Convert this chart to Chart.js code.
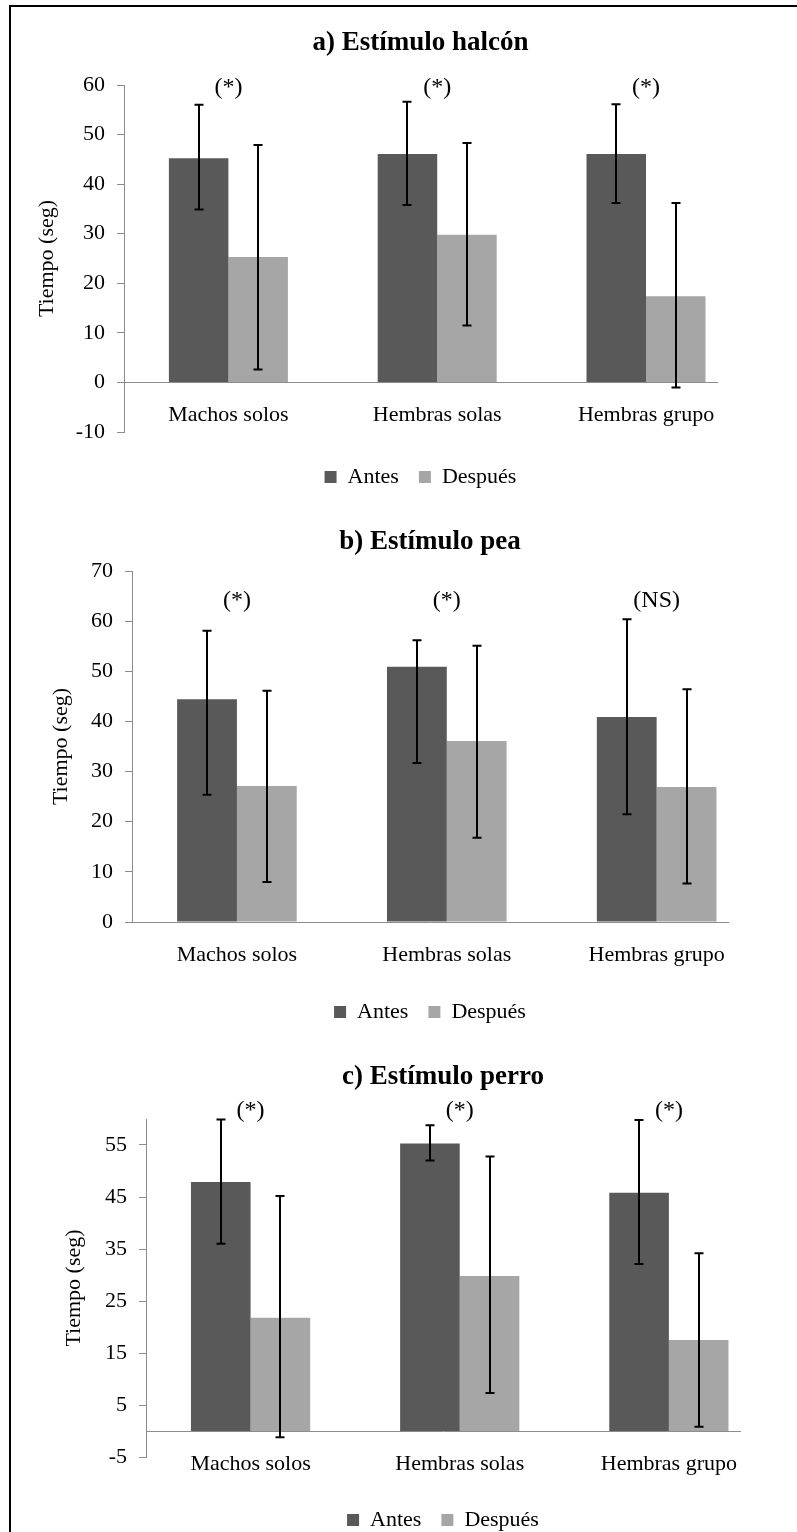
<!DOCTYPE html>
<html><head><meta charset="utf-8">
<script src="https://cdn.jsdelivr.net/npm/chart.js@4.4.1/dist/chart.umd.min.js"></script>
<style>
html,body{margin:0;padding:0;background:#fff;overflow:hidden;}
#page{position:relative;width:797px;height:1532px;overflow:hidden;background:#fff;}
canvas{position:absolute;left:0;}
#frame{position:absolute;left:9px;top:5px;width:800px;height:1560px;border-top:2px solid #000;border-left:2px solid #000;pointer-events:none;}
</style></head>
<body>
<div id="page">
<canvas id="cA" width="797" height="500" style="top:0px"></canvas>
<canvas id="cB" width="797" height="540" style="top:500px"></canvas>
<canvas id="cC" width="797" height="520" style="top:1030px"></canvas>
<div id="frame"></div>
</div>
<script>
const categories = ['Machos solos', 'Hembras solas', 'Hembras grupo'];
const seriesNames = ['Antes', 'Después'];

// a) Estímulo halcón
const halconAntes = [45.2, 46.1, 46.1];
const halconDespues = [25.3, 29.8, 17.4];
const halconAntesHigh = [56.0, 56.6, 56.1];
const halconAntesLow = [34.9, 35.8, 36.2];
const halconDespuesHigh = [47.9, 48.3, 36.2];
const halconDespuesLow = [2.6, 11.5, -1.0];
const halconSig = ['(*)', '(*)', '(*)'];
const halconTicks = [-10, 0, 10, 20, 30, 40, 50, 60];

// b) Estímulo pea
const peaAntes = [44.4, 50.9, 40.9];
const peaDespues = [27.1, 36.1, 26.9];
const peaAntesHigh = [58.1, 56.2, 60.4];
const peaAntesLow = [25.4, 31.7, 21.5];
const peaDespuesHigh = [46.1, 55.1, 46.4];
const peaDespuesLow = [8.0, 16.8, 7.7];
const peaSig = ['(*)', '(*)', '(NS)'];
const peaTicks = [0, 10, 20, 30, 40, 50, 60, 70];

// c) Estímulo perro
const perroAntes = [47.9, 55.3, 45.8];
const perroDespues = [21.8, 29.8, 17.5];
const perroAntesHigh = [59.9, 58.8, 59.8];
const perroAntesLow = [36.0, 52.0, 32.1];
const perroDespuesHigh = [45.2, 52.8, 34.2];
const perroDespuesLow = [-1.2, 7.3, 0.8];
const perroSig = ['(*)', '(*)', '(*)'];
const perroTicks = [-5, 5, 15, 25, 35, 45, 55];

const FONT = "'Liberation Serif','Times New Roman',serif";

const errorBars = {
  id: 'errorBars',
  afterDatasetsDraw(chart) {
    const ctx = chart.ctx, ys = chart.scales.y;
    ctx.save();
    ctx.strokeStyle = '#000';
    ctx.lineWidth = 2;
    chart.data.datasets.forEach((ds, d) => {
      const meta = chart.getDatasetMeta(d);
      meta.data.forEach((bar, j) => {
        const x = Math.round(bar.x);
        const yh = ys.getPixelForValue(ds.errHigh[j]);
        const yl = ys.getPixelForValue(ds.errLow[j]);
        ctx.beginPath();
        ctx.moveTo(x, yh); ctx.lineTo(x, yl);
        ctx.moveTo(x - 4.5, yh); ctx.lineTo(x + 4.5, yh);
        ctx.moveTo(x - 4.5, yl); ctx.lineTo(x + 4.5, yl);
        ctx.stroke();
      });
    });
    ctx.restore();
  }
};

const sigLabels = {
  id: 'sig',
  afterDatasetsDraw(chart, args, opts) {
    const ctx = chart.ctx;
    ctx.save();
    ctx.font = '24px ' + FONT;
    ctx.fillStyle = '#000';
    ctx.textAlign = 'center';
    ctx.textBaseline = 'middle';
    (opts.labels || []).forEach((t, j) => {
      ctx.fillText(t, chart.scales.x.getPixelForValue(j), chart.scales.y.getPixelForValue(opts.y));
    });
    ctx.restore();
  }
};

function build(id, p) {
  return new Chart(document.getElementById(id), {
    type: 'bar',
    data: {
      datasets: [
        { label: seriesNames[0], data: p.antes.map((v, i) => ({ x: i, y: v })), backgroundColor: '#595959',
          errHigh: p.antesHigh, errLow: p.antesLow },
        { label: seriesNames[1], data: p.despues.map((v, i) => ({ x: i, y: v })), backgroundColor: '#a6a6a6',
          errHigh: p.despuesHigh, errLow: p.despuesLow }
      ]
    },
    options: {
      responsive: false,
      animation: false,
      devicePixelRatio: 1,
      categoryPercentage: 0.57,
      barPercentage: 1,
      layout: { padding: { left: 0, right: p.padRight, top: 0, bottom: p.padBottom } },
      scales: {
        x: {
          type: 'linear', position: { y: 0 }, min: -0.5, max: 2.34, offset: false,
          afterBuildTicks: s => { s.ticks = categories.map((c, i) => ({ value: i })); },
          ticks: { callback: v => categories[v], font: { family: FONT, size: 22 }, color: '#000',
                   padding: 20, maxRotation: 0, autoSkip: false },
          grid: { display: true, drawOnChartArea: false, drawTicks: false },
          border: { color: '#8c8c8c', width: 1 }
        },
        y: {
          min: p.min, max: p.max,
          afterBuildTicks: s => { s.ticks = p.ticks.map(v => ({ value: v })); },
          afterFit: s => { s.width = p.axisLeft; },
          ticks: { font: { family: FONT, size: 22 }, color: '#000', padding: 12 },
          grid: { drawOnChartArea: false, drawTicks: true, tickLength: 7, color: '#8c8c8c' },
          border: { color: '#8c8c8c', width: 1 },
          title: { display: true, text: 'Tiempo (seg)', font: { family: FONT, size: 22 }, color: '#000',
                   padding: { top: p.yTitlePad, bottom: 0 } }
        }
      },
      plugins: {
        title: { display: true, text: p.title, fullSize: false, color: '#000',
                 font: { family: FONT, size: 27, weight: 'bold' },
                 padding: { top: p.tPadTop, bottom: p.tPadBottom } },
        legend: { position: 'bottom', fullSize: false,
                  labels: { boxWidth: 12, boxHeight: 12, font: { family: FONT, size: 22 }, color: '#000', padding: 20 },
                  title: { display: true, text: '', font: { size: 1 }, padding: { top: p.legendGap, bottom: 0 } } },
        tooltip: { enabled: false },
        sig: { labels: p.sig, y: p.sigY }
      }
    },
    plugins: [errorBars, sigLabels]
  });
}

build('cA', {
  title: 'a) Estímulo halcón', antes: halconAntes, despues: halconDespues,
  antesHigh: halconAntesHigh, antesLow: halconAntesLow, despuesHigh: halconDespuesHigh, despuesLow: halconDespuesLow,
  sig: halconSig, sigY: 59.4, ticks: halconTicks, min: -10, max: 60,
  axisLeft: 124, padRight: 80, yTitlePad: 34, tPadTop: 27, tPadBottom: 25.6, padBottom: 2, legendGap: 12.8
});
build('cB', {
  title: 'b) Estímulo pea', antes: peaAntes, despues: peaDespues,
  antesHigh: peaAntesHigh, antesLow: peaAntesLow, despuesHigh: peaDespuesHigh, despuesLow: peaDespuesLow,
  sig: peaSig, sigY: 64, ticks: peaTicks, min: 0, max: 70,
  axisLeft: 132, padRight: 69, yTitlePad: 48, tPadTop: 26, tPadBottom: 12.6, padBottom: 7, legendGap: 57.8
});
build('cC', {
  title: 'c) Estímulo perro', antes: perroAntes, despues: perroDespues,
  antesHigh: perroAntesHigh, antesLow: perroAntesLow, despuesHigh: perroDespuesHigh, despuesLow: perroDespuesLow,
  sig: perroSig, sigY: 61.5, ticks: perroTicks, min: -5, max: 60,
  axisLeft: 146, padRight: 57, yTitlePad: 61, tPadTop: 31, tPadBottom: 25.6, padBottom: 9, legendGap: 30.8
});
</script>
</body></html>
